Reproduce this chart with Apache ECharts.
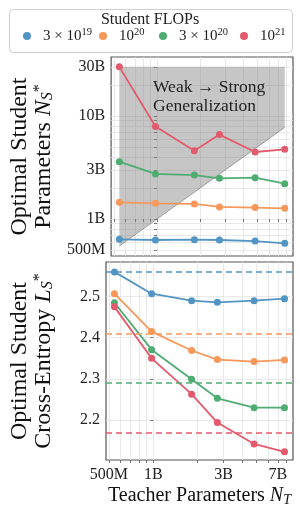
<!DOCTYPE html>
<html><head><meta charset="utf-8">
<script src="https://cdn.jsdelivr.net/npm/echarts@6/dist/echarts.min.js"></script>
<style>html,body{margin:0;padding:0;background:#fff}#c{width:300px;height:514px}</style>
</head><body><div id="c"></div>
<script>
// ---- data (teacher / student sizes in billions of parameters) ----
const teacherParams = [0.546, 0.975, 1.82, 2.72, 4.82, 7.75];
const flopsNames = ['3e19', '1e20', '3e20', '1e21'];
const flopsMant = ['3 × 10', '10', '3 × 10', '10'];
const flopsExp = ['19', '20', '20', '21'];
const colors = ['#5295c4', '#f7975a', '#4fad72', '#e35a6c'];

const studentParams3e19 = [0.635, 0.625, 0.63, 0.625, 0.61, 0.58];
const studentParams1e20 = [1.45, 1.42, 1.40, 1.31, 1.29, 1.27];
const studentParams3e20 = [3.6, 2.74, 2.67, 2.48, 2.52, 2.2];
const studentParams1e21 = [30, 7.9, 4.6, 6.6, 4.47, 4.75];

const studentLoss3e19 = [2.560, 2.507, 2.490, 2.486, 2.490, 2.495];
const studentLoss1e20 = [2.507, 2.415, 2.369, 2.347, 2.342, 2.346];
const studentLoss3e20 = [2.485, 2.371, 2.299, 2.253, 2.230, 2.230];
const studentLoss1e21 = [2.475, 2.350, 2.263, 2.194, 2.142, 2.123];
const baselineLoss = [2.558, 2.414, 2.292, 2.169];

const regionTop = 30; // weak->strong shaded region upper bound (B)

const xTickValues = [0.5, 1, 3, 7];
const xTickLabels = ['500M', '1B', '3B', '7B'];
const xGridValues = [0.5, 0.6, 0.7, 0.8, 0.9, 1, 2, 3, 4, 5, 6, 7, 8];
const yTopTickValues = [0.5, 1, 3, 10, 30];
const yTopTickLabels = ['500M', '1B', '3B', '10B', '30B'];
const yTopGridValues = [0.5, 0.6, 0.7, 0.8, 0.9, 1, 2, 3, 4, 5, 6, 7, 8, 9, 10, 20, 30];
const yBotTickValues = [2.2, 2.3, 2.4, 2.5];

// ---- build ----
const L = v => Math.log10(v);
const paramsSets = [studentParams3e19, studentParams1e20, studentParams3e20, studentParams1e21];
const lossSets = [studentLoss3e19, studentLoss1e20, studentLoss3e20, studentLoss1e21];
const FONT = 'Liberation Serif';
const gridColor = '#e3e3e3';

function labelFrom(vals, labels) {
  return v => {
    for (let i = 0; i < vals.length; i++) if (Math.abs(L(vals[i]) - v) < 1e-6) return labels[i];
    return '';
  };
}

const xCommon = (idx, showLabels) => ({
  type: 'value', gridIndex: idx, min: -0.32, max: 0.947,
  axisLine: { show: false },
  axisTick: { show: true, length: 3, customValues: xGridValues.map(L), lineStyle: { color: '#555', width: 0.8 } },
  axisLabel: { show: showLabels, customValues: xTickValues.map(L), formatter: labelFrom(xTickValues, xTickLabels),
               fontFamily: FONT, fontSize: 16, color: '#222', margin: 7 },
  splitLine: { show: true, lineStyle: { color: gridColor, width: 0.8 } }
});

const series = [];
// shaded weak -> strong region
const regX = [teacherParams[0], teacherParams[0], teacherParams[5], teacherParams[5]];
const regY = [teacherParams[0], regionTop, regionTop, teacherParams[5]];
series.push({
  type: 'custom', xAxisIndex: 0, yAxisIndex: 0, z: 1, silent: true,
  data: [[L(regX[0]), L(regY[0])]],
  renderItem: (params, api) => {
    const pts = regX.map((x, i) => api.coord([L(x), L(regY[i])]));
    return { type: 'group', children: [
      { type: 'polygon', shape: { points: pts }, style: { fill: 'rgba(128,128,128,0.45)', stroke: 'none' } },
      { type: 'polyline', shape: { points: [pts[0], pts[3]] }, style: { stroke: 'rgba(90,90,90,0.6)', lineWidth: 0.8, fill: 'none' } }
    ] };
  }
});
flopsNames.forEach((n, k) => {
  series.push({
    name: n, type: 'line', xAxisIndex: 0, yAxisIndex: 0, z: 3,
    data: teacherParams.map((t, i) => [L(t), L(paramsSets[k][i])]),
    symbol: 'circle', symbolSize: 7, color: colors[k],
    lineStyle: { width: 1.8, color: colors[k] }, itemStyle: { color: colors[k] }
  });
});
flopsNames.forEach((n, k) => {
  series.push({
    name: n, type: 'line', xAxisIndex: 1, yAxisIndex: 1, z: 3,
    data: teacherParams.map((t, i) => [L(t), lossSets[k][i]]),
    symbol: 'circle', symbolSize: 7, color: colors[k],
    lineStyle: { width: 1.8, color: colors[k] }, itemStyle: { color: colors[k] },
    markLine: { symbol: 'none', silent: true, label: { show: false },
      lineStyle: { type: [6, 4], width: 1.6, color: colors[k] },
      data: [{ yAxis: baselineLoss[k] }] }
  });
});

const legendIconX = [27, 103, 163, 244];
const legends = flopsNames.map((n, k) => ({
  data: [{ name: n, icon: 'circle' }], left: legendIconX[k] - 4, top: 27, padding: 0,
  itemWidth: 8, itemHeight: 8, selectedMode: false,
  formatter: () => '{b|' + flopsMant[k] + '}{e|' + flopsExp[k] + '}',
  textStyle: { padding: [0, 0, 0, 7], rich: {
    b: { fontFamily: FONT, fontSize: 15, lineHeight: 18, color: '#222' },
    e: { fontFamily: FONT, fontSize: 10.5, lineHeight: 11, verticalAlign: 'top', color: '#222' } } }
}));

const nameRich = {
  r: { fontFamily: FONT, fontSize: 24, lineHeight: 24, color: '#111' },
  i: { fontFamily: FONT, fontSize: 24, lineHeight: 24, fontStyle: 'italic', color: '#111' },
  sub: { fontFamily: FONT, fontSize: 16, lineHeight: 16, fontStyle: 'italic', verticalAlign: 'bottom', color: '#111' },
  sup: { fontFamily: FONT, fontSize: 16, lineHeight: 16, verticalAlign: 'top', color: '#111' }
};
const xNameRich = {
  r: { fontFamily: FONT, fontSize: 20, lineHeight: 22, color: '#111' },
  i: { fontFamily: FONT, fontSize: 20, lineHeight: 22, fontStyle: 'italic', color: '#111' },
  sub: { fontFamily: FONT, fontSize: 14, lineHeight: 14, fontStyle: 'italic', verticalAlign: 'bottom', color: '#111' }
};

const option = {
  animation: false,
  backgroundColor: '#fff',
  legend: legends,
  graphic: [
    { type: 'rect', left: 7, top: 7, shape: { x: 0, y: 0, width: 283, height: 43, r: 4 },
      style: { fill: 'none', stroke: '#cfcfcf', lineWidth: 1 }, z: -1 },
    { type: 'text', left: 'center', top: 12, style: { text: 'Student FLOPs', font: '16px "Liberation Serif"', fill: '#222' } },
    { type: 'text', left: 153, top: 78, style: { text: 'Weak → Strong\nGeneralization', font: '17.5px "Liberation Serif"', lineHeight: 19, fill: '#222' }, z: 10 }
  ],
  grid: [
    { left: 105, right: 7, top: 57, height: 199, show: true, borderColor: '#555', borderWidth: 1.2 },
    { left: 105, right: 7, top: 262, height: 198, show: true, borderColor: '#555', borderWidth: 1.2 }
  ],
  xAxis: [
    xCommon(0, false),
    Object.assign(xCommon(1, true), {
      name: '{r|Teacher Parameters }{i|N}{sub|T}', nameLocation: 'middle', nameGap: 25,
      nameTextStyle: { rich: xNameRich }
    })
  ],
  yAxis: [
    { type: 'value', gridIndex: 0, min: -0.3595, max: 1.573,
      axisLine: { show: false },
      axisTick: { show: true, length: 3, customValues: yTopGridValues.map(L), lineStyle: { color: '#555', width: 0.8 } },
      axisLabel: { customValues: yTopTickValues.map(L), formatter: labelFrom(yTopTickValues, yTopTickLabels),
                   fontFamily: FONT, fontSize: 16, color: '#222', margin: 6 },
      splitLine: { show: true, lineStyle: { color: gridColor, width: 0.8 } },
      name: '{r|Optimal Student}\n{r|Parameters }{i|N}{sub|S}{sup|*}', nameLocation: 'middle', nameGap: 50, nameRotate: 90,
      nameTextStyle: { rich: nameRich }
    },
    { type: 'value', gridIndex: 1, min: 2.103, max: 2.584,
      axisLine: { show: false },
      axisTick: { show: true, length: 3, customValues: yBotTickValues, lineStyle: { color: '#555', width: 0.8 } },
      axisLabel: { customValues: yBotTickValues, formatter: v => v.toFixed(1),
                   fontFamily: FONT, fontSize: 16, color: '#222', margin: 6 },
      splitLine: { show: true, lineStyle: { color: gridColor, width: 0.8 } },
      name: '{r|Optimal Student}\n{r|Cross-Entropy }{i|L}{sub|S}{sup|*}', nameLocation: 'middle', nameGap: 50, nameRotate: 90,
      nameTextStyle: { rich: nameRich }
    }
  ],
  series: series
};
const chart = echarts.init(document.getElementById('c'), null, { renderer: 'canvas' });
chart.setOption(option);
</script></body></html>
